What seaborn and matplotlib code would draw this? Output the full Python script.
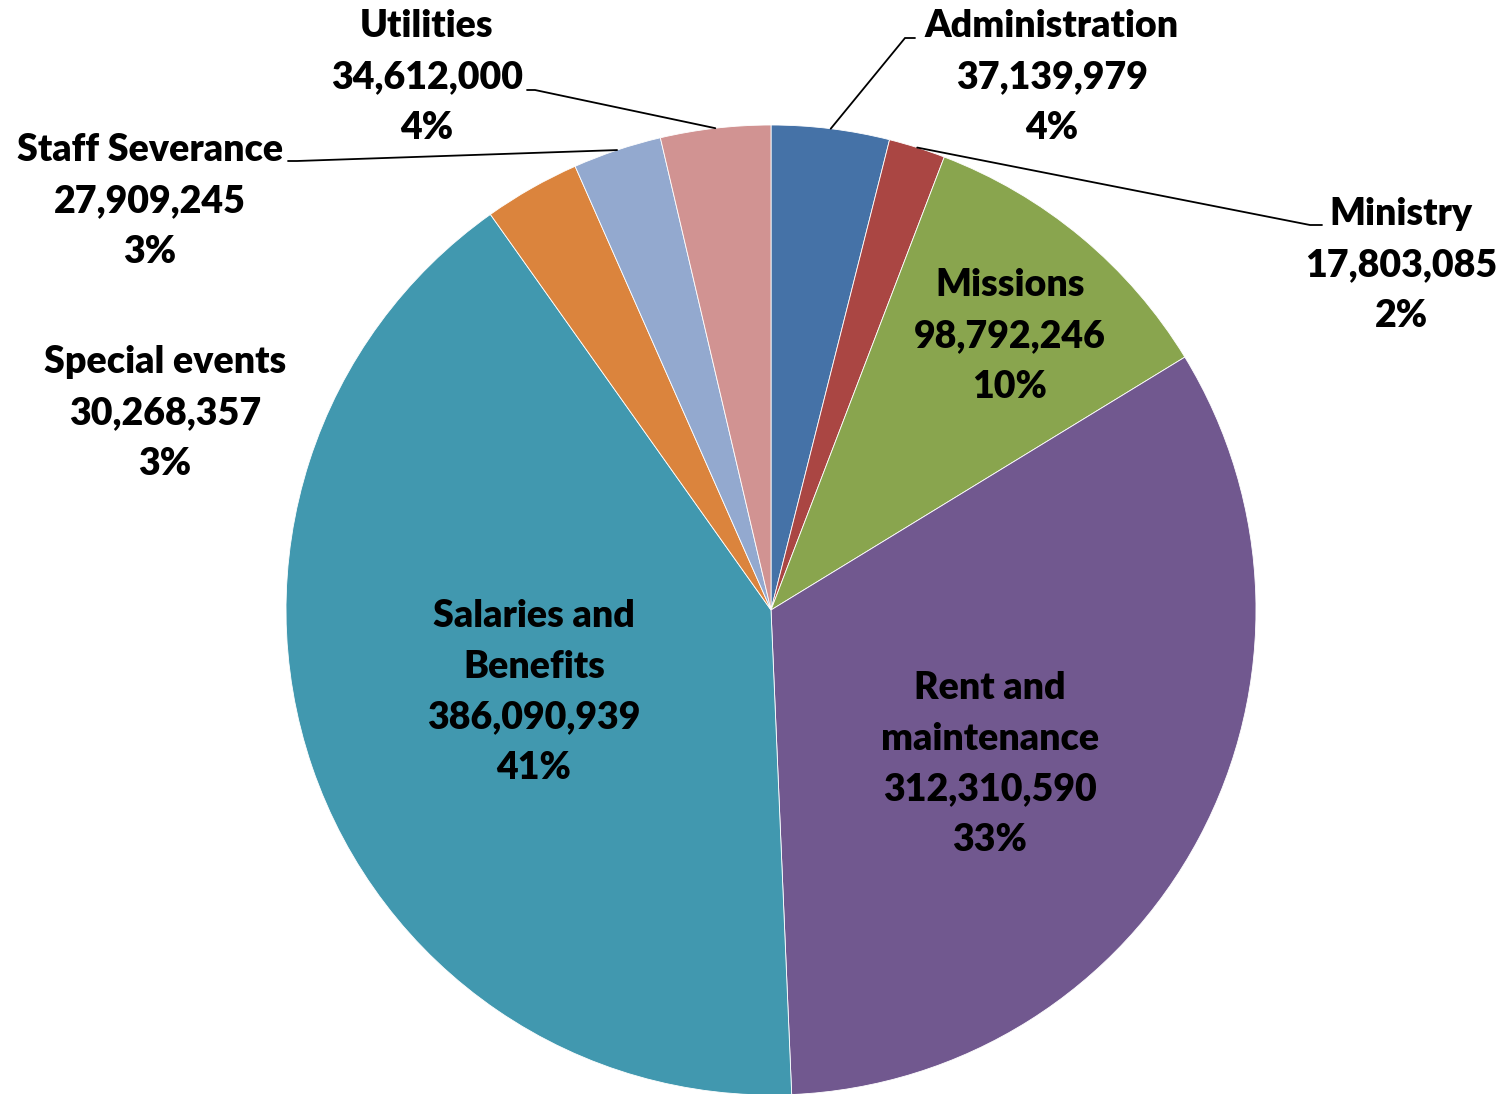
import numpy as np
import matplotlib
matplotlib.use("Agg")
import matplotlib.pyplot as plt
import seaborn as sns

# ---- data ----
categories = ["Administration", "Ministry", "Missions", "Rent and maintenance",
              "Salaries and Benefits", "Special events", "Staff Severance", "Utilities"]
display_names = ["Administration", "Ministry", "Missions", "Rent and\nmaintenance",
                 "Salaries and\nBenefits", "Special events", "Staff Severance", "Utilities"]
values = [37139979, 17803085, 98792246, 312310590, 386090939, 30268357, 27909245, 34612000]
colors = ["#4572A7", "#AA4643", "#89A54E", "#71588F", "#4198AF", "#DB843D", "#93A9CF", "#D19392"]

# ---- layout (pixels in the 1506x1094 canvas) ----
W, H = 1506, 1094
CX, CY, R = 771, 610, 485
label_centers = [(1052, 77), (1401, 265), (1010, 336), (990, 764),
                 (534, 692), (165, 413), (150, 201), (427, 77)]
# elbow points of leader lines (None = no leader)
elbows = [((905, 38), (915, 38)), ((1310, 225), (1322, 225)), None, None, None, None,
          ((297, 161), (288, 161)), ((535, 90), (527, 90))]

sns.set_theme(style="white")
plt.rcParams["font.family"] = ["Lato", "DejaVu Sans"]

fig = plt.figure(figsize=(W / 100, H / 100), dpi=100)
ax = fig.add_axes([0, 0, 1, 1])

def d(px, py):
    return ((px - CX) / R, (CY - py) / R)

wedges, _ = ax.pie(values, colors=colors, startangle=90, counterclock=False,
                   radius=1.0, center=(0, 0),
                   wedgeprops=dict(edgecolor="white", linewidth=0.6))

x0, y1 = d(0, 0)
x1, y0 = d(W, H)
ax.set_xlim(x0, x1)
ax.set_ylim(y0, y1)
ax.set_aspect("equal")
ax.axis("off")

total = sum(values)
for i, (name, v) in enumerate(zip(display_names, values)):
    txt = f"{name}\n{v:,}\n{v / total:.0%}"
    lx, ly = d(*label_centers[i])
    ax.text(lx, ly, txt, ha="center", va="center", fontsize=27, fontweight="heavy",
            color="black", linespacing=1.6)
    if elbows[i] is not None:
        w = wedges[i]
        mid = np.deg2rad((w.theta1 + w.theta2) / 2)
        ex, ey = np.cos(mid), np.sin(mid)
        (bx, by), (cx, cy) = d(*elbows[i][0]), d(*elbows[i][1])
        ax.plot([ex, bx, cx], [ey, by, cy], color="black", linewidth=1.3,
                solid_joinstyle="miter")

fig.savefig("out.png", dpi=100, facecolor="white")
